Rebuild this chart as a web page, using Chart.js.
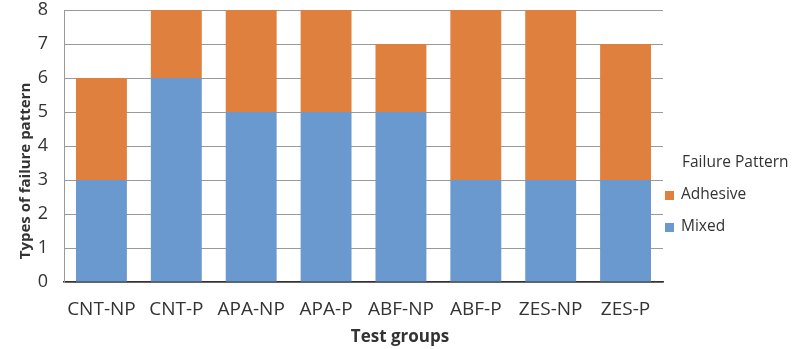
<!DOCTYPE html>
<html>
<head>
<meta charset="utf-8">
<script src="https://cdn.jsdelivr.net/npm/chart.js@4/dist/chart.umd.min.js"></script>
<style>
html,body{margin:0;padding:0;background:#fff;}
#wrap{width:794px;height:349px;position:relative;}
</style>
</head>
<body>
<div id="wrap"><canvas id="c" width="794" height="349"></canvas></div>
<script>
const categories = ["CNT-NP","CNT-P","APA-NP","APA-P","ABF-NP","ABF-P","ZES-NP","ZES-P"];
const mixed = [3,6,5,5,5,3,3,3];
const adhesive = [3,2,3,3,2,5,5,4];
const yTicks = [0,1,2,3,4,5,6,7,8];
const seriesNames = ["Mixed","Adhesive"];
const legendTitle = "Failure Pattern";
const xTitle = "Test groups";
const yTitle = "Types of failure pattern";

const BLUE = "#6a99d0";
const ORANGE = "#e0803f";
const FONT = "'Open Sans', 'Noto Sans', sans-serif";
const TXT = "#333333";

const extras = {
  id: "extras",
  afterDraw(chart) {
    const ctx = chart.ctx;
    ctx.save();
    ctx.fillStyle = TXT;
    // x title
    ctx.font = "bold 17px " + FONT;
    ctx.textAlign = "center";
    ctx.textBaseline = "middle";
    ctx.fillText(xTitle, 400, 337);
    // y title
    ctx.save();
    ctx.translate(26, 171);
    ctx.rotate(-Math.PI/2);
    ctx.font = "bold 15px " + FONT;
    ctx.fillText(yTitle, 0, 0);
    ctx.restore();
    // legend
    ctx.textAlign = "left";
    ctx.font = "15.5px " + FONT;
    ctx.fillText(legendTitle, 682, 163);
    const items = [
      {label: chart.data.datasets[1].label, color: chart.data.datasets[1].backgroundColor, y: 195},
      {label: chart.data.datasets[0].label, color: chart.data.datasets[0].backgroundColor, y: 227}
    ];
    items.forEach(it => {
      ctx.fillStyle = it.color;
      ctx.fillRect(665, it.y - 4, 9, 9);
      ctx.fillStyle = TXT;
      ctx.fillText(it.label, 681, it.y);
    });
    ctx.restore();
  }
};

new Chart(document.getElementById("c"), {
  type: "bar",
  data: {
    labels: categories,
    datasets: [
      {label: seriesNames[0], data: mixed, backgroundColor: BLUE, barPercentage: 0.68, categoryPercentage: 1},
      {label: seriesNames[1], data: adhesive, backgroundColor: ORANGE, barPercentage: 0.68, categoryPercentage: 1}
    ]
  },
  options: {
    responsive: false,
    animation: false,
    layout: {padding: {left: 0, right: 131, top: 10, bottom: 0}},
    plugins: {legend: {display: false}, tooltip: {enabled: false}},
    scales: {
      x: {
        stacked: true,
        grid: {display: false, drawTicks: false},
        border: {display: true, color: "#333", width: 1.5},
        ticks: {color: TXT, font: {family: FONT, size: 19}, padding: 16, maxRotation: 0, autoSkip: false},
        afterFit: s => { s.height = 349 - 282; s.paddingLeft = 0; s.paddingRight = 0; }
      },
      y: {
        stacked: true,
        min: 0, max: 8,
        afterBuildTicks: s => { s.ticks = yTicks.map(v => ({value: v})); },
        grid: {color: "#999", lineWidth: 1, drawTicks: false},
        border: {display: true, color: "#999", width: 1},
        ticks: {color: TXT, font: {family: FONT, size: 18}, padding: 16},
        afterFit: s => { s.width = 64; s.paddingTop = 0; s.paddingBottom = 0; }
      }
    }
  },
  plugins: [extras]
});
</script>
</body>
</html>
